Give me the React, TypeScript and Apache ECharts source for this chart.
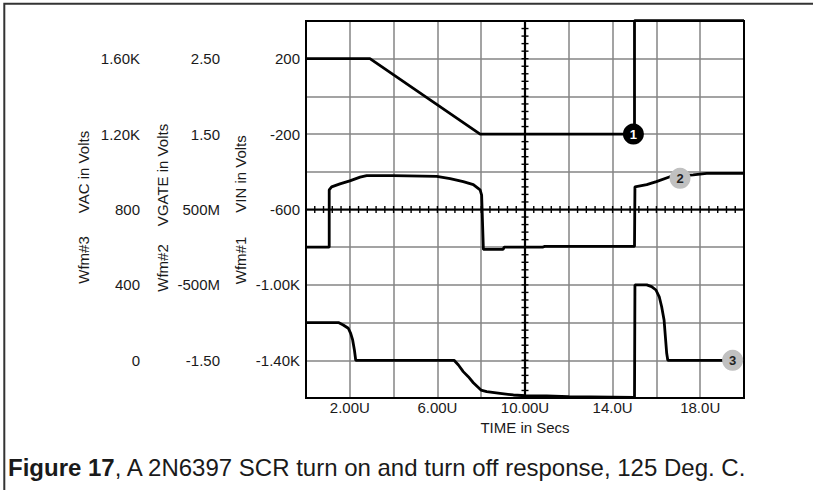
import React, { useEffect, useRef } from "react";
import * as echarts from "echarts";

// ---- axis ticks ----
const timeTickValues = [2, 6, 10, 14, 18];
const timeTickLabels = ["2.00U", "6.00U", "10.00U", "14.0U", "18.0U"];

const vinTickValues = [200, -200, -600, -1000, -1400];
const vinTickLabels = ["200", "-200", "-600", "-1.00K", "-1.40K"];

const vgateTickValues = [2.5, 1.5, 0.5, -0.5, -1.5];
const vgateTickLabels = ["2.50", "1.50", "500M", "-500M", "-1.50"];

const vacTickValues = [1600, 1200, 800, 400, 0];
const vacTickLabels = ["1.60K", "1.20K", "800", "400", "0"];

// ---- Wfm#1 : VIN (V) vs time (us) ----
const vinTime = [0, 2.92, 7.95, 15.0, 15.0, 20];
const vinValues = [200, 200, -200, -200, 402, 402];

// ---- Wfm#2 : VGATE (V) ----
const vgateTime = [
  0, 1.06, 1.06, 1.17, 1.55, 2.0, 2.47, 2.77, 3.97, 5.97, 6.58, 7.18, 7.64, 7.95, 8.02, 8.1,
  9.0, 9.05, 10.8, 10.9, 15.0, 15.02, 15.56, 16.0, 16.62, 17.68, 18.3, 20,
];
const vgateValues = [
  0.0, 0.0, 0.76, 0.8, 0.84, 0.88, 0.93, 0.95, 0.95, 0.94, 0.91, 0.87, 0.83, 0.76, 0.69, -0.03,
  -0.03, 0.0, 0.0, 0.01, 0.01, 0.8, 0.83, 0.87, 0.935, 0.96, 0.98, 0.98,
];

// ---- Wfm#3 : VAC (V) ----
const vacTime = [
  0, 1.48, 1.7, 1.93, 2.04, 2.13, 2.21, 2.27, 6.76, 6.96, 7.18, 7.41, 7.64, 7.99, 8.25, 8.86,
  9.47, 10.03, 10.99, 12.0, 15.0, 15.02, 15.56, 15.78, 15.98, 16.13, 16.24, 16.35, 16.41, 16.47,
  16.52, 20,
];
const vacValues = [
  200, 200, 187, 170, 143, 108, 55, 0, 0, -25, -60, -87, -119, -158, -166, -175, -184, -188,
  -189, -193, -197, 400, 400, 391, 373, 337, 284, 214, 125, 37, 0, 0,
];

// ---- waveform markers ----
const markerLabels = ["1", "2", "3"];
const markerTimes = [14.95, 17.08, 19.48];
const markerValues = [-200, 0.914, 0];

// ---- crosshair (scope centre graticule) ----
const crossTime = 10;
const crossVin = -600;
const crossTimeStep = 0.4;
const crossVinStep = 40;

const timeMin = 0;
const timeMax = 20;
const vinMin = -1600;
const vinMax = 400;

const FONT = "'Liberation Sans', Arial, Helvetica, sans-serif";
const TXT = "#1a1a1a";

const pick = (vals: number[], labels: string[]) => (v: number) => {
  const i = vals.findIndex((t) => Math.abs(t - v) < 1e-6);
  return i >= 0 ? labels[i] : "";
};

const zip = (xs: number[], ys: number[]) => xs.map((x, i) => [x, ys[i]]);

export default function App() {
  const ref = useRef<HTMLDivElement>(null);

  useEffect(() => {
    if (!ref.current) return;
    const chart = echarts.init(ref.current, null, { renderer: "svg" });

    const yAxisBase = (offset: number, min: number, max: number, interval: number, vals: number[], labels: string[], split: boolean) => ({
      type: "value",
      position: "left",
      offset,
      min,
      max,
      interval,
      axisLine: { show: false },
      axisTick: { show: false },
      axisLabel: {
        show: true,
        margin: 6,
        fontSize: 15,
        fontFamily: FONT,
        color: TXT,
        formatter: pick(vals, labels),
      },
      splitLine: split ? { show: true, lineStyle: { color: "#858585", width: 1.5 } } : { show: false },
    });

    const lineSeries = (name: string, yIdx: number, data: number[][], mk: number) => {
      const gray = mk !== 0;
      return {
        name,
        type: "line",
        yAxisIndex: yIdx,
        data,
        showSymbol: false,
        clip: false,
        z: 3,
        lineStyle: { color: "#000", width: 2.8 },
        markPoint: {
          symbol: "circle",
          symbolSize: 21,
          z: 5,
          data: [
            {
              coord: [markerTimes[mk], markerValues[mk]],
              itemStyle: { color: gray ? "#c0c0c0" : "#000" },
              label: {
                show: true,
                formatter: markerLabels[mk],
                color: gray ? "#222" : "#fff",
                fontWeight: "bold",
                fontSize: 13,
                fontFamily: FONT,
              },
            },
          ],
        },
      };
    };

    const option: any = {
      animation: false,
      backgroundColor: "#fff",
      grid: {
        left: 306,
        top: 21,
        width: 438,
        height: 377,
        show: true,
        borderColor: "#000",
        borderWidth: 2,
        backgroundColor: "transparent",
        z: 1,
      },
      xAxis: {
        type: "value",
        min: timeMin,
        max: timeMax,
        interval: 2,
        name: "TIME in Secs",
        nameLocation: "middle",
        nameGap: 18,
        nameTextStyle: { fontSize: 15, fontFamily: FONT, color: TXT },
        axisLine: { show: false },
        axisTick: { show: false },
        axisLabel: {
          margin: 2,
          fontSize: 15,
          fontFamily: FONT,
          color: TXT,
          formatter: pick(timeTickValues, timeTickLabels),
        },
        splitLine: { show: true, lineStyle: { color: "#858585", width: 1.5 } },
      },
      yAxis: [
        yAxisBase(0, vinMin, vinMax, 200, vinTickValues, vinTickLabels, true),
        yAxisBase(80, -2, 3, 0.5, vgateTickValues, vgateTickLabels, false),
        yAxisBase(160, -200, 1800, 200, vacTickValues, vacTickLabels, false),
      ],
      series: [
        {
          type: "custom",
          xAxisIndex: 0,
          yAxisIndex: 0,
          silent: true,
          z: 2,
          data: [[crossTime, crossVin]],
          renderItem: (_params: any, api: any) => {
            const c = api.coord([crossTime, crossVin]);
            const l = api.coord([timeMin, crossVin])[0];
            const r = api.coord([timeMax, crossVin])[0];
            const t = api.coord([crossTime, vinMax])[1];
            const b = api.coord([crossTime, vinMin])[1];
            const children: any[] = [
              { type: "line", shape: { x1: l, y1: c[1], x2: r, y2: c[1] }, style: { stroke: "#000", lineWidth: 2 } },
              { type: "line", shape: { x1: c[0], y1: t, x2: c[0], y2: b }, style: { stroke: "#000", lineWidth: 2.2 } },
            ];
            const nx = Math.round((timeMax - timeMin) / crossTimeStep);
            for (let i = 1; i < nx; i++) {
              const x = api.coord([timeMin + i * crossTimeStep, crossVin])[0];
              children.push({ type: "line", shape: { x1: x, y1: c[1] - 3.5, x2: x, y2: c[1] + 3.5 }, style: { stroke: "#000", lineWidth: 1.4 } });
            }
            const ny = Math.round((vinMax - vinMin) / crossVinStep);
            for (let i = 1; i < ny; i++) {
              const y = api.coord([crossTime, vinMin + i * crossVinStep])[1];
              children.push({ type: "line", shape: { x1: c[0] - 3.5, y1: y, x2: c[0] + 3.5, y2: y }, style: { stroke: "#000", lineWidth: 1.4 } });
            }
            return { type: "group", children };
          },
        },
        lineSeries("Wfm#1 VIN", 0, zip(vinTime, vinValues), 0),
        lineSeries("Wfm#2 VGATE", 1, zip(vgateTime, vgateValues), 1),
        lineSeries("Wfm#3 VAC", 2, zip(vacTime, vacValues), 2),
      ],
      graphic: [
        {
          type: "rect",
          shape: { x: 4.3, y: 3.7, width: 1000, height: 1000 },
          style: { fill: "none", stroke: "#333", lineWidth: 2 },
          silent: true,
        },
        { type: "text", x: 83, y: 172, rotation: Math.PI / 2, style: { text: "VAC in Volts", fontSize: 15, fontFamily: FONT, fill: TXT, align: "center", verticalAlign: "middle" } },
        { type: "text", x: 83, y: 260, rotation: Math.PI / 2, style: { text: "Wfm#3", fontSize: 15, fontFamily: FONT, fill: TXT, align: "center", verticalAlign: "middle" } },
        { type: "text", x: 162.5, y: 175, rotation: Math.PI / 2, style: { text: "VGATE in Volts", fontSize: 15, fontFamily: FONT, fill: TXT, align: "center", verticalAlign: "middle" } },
        { type: "text", x: 162.5, y: 268, rotation: Math.PI / 2, style: { text: "Wfm#2", fontSize: 15, fontFamily: FONT, fill: TXT, align: "center", verticalAlign: "middle" } },
        { type: "text", x: 240, y: 174, rotation: Math.PI / 2, style: { text: "VIN in Volts", fontSize: 15, fontFamily: FONT, fill: TXT, align: "center", verticalAlign: "middle" } },
        { type: "text", x: 240, y: 260.5, rotation: Math.PI / 2, style: { text: "Wfm#1", fontSize: 15, fontFamily: FONT, fill: TXT, align: "center", verticalAlign: "middle" } },
        {
          type: "text",
          x: 8,
          y: 467,
          style: {
            text: "{b|Figure 17}{n|, A 2N6397 SCR turn on and turn off response, 125 Deg. C.}",
            verticalAlign: "middle",
            align: "left",
            rich: {
              b: { fontSize: 24, fontWeight: "bold", fontFamily: FONT, fill: TXT, color: TXT },
              n: { fontSize: 24, fontFamily: FONT, fill: TXT, color: TXT },
            },
          },
        },
      ],
    };

    chart.setOption(option);
    return () => chart.dispose();
  }, []);

  return (
    <div
      ref={ref}
      style={{ position: "fixed", left: 0, top: 0, width: 813, height: 490, background: "#fff" }}
    />
  );
}
